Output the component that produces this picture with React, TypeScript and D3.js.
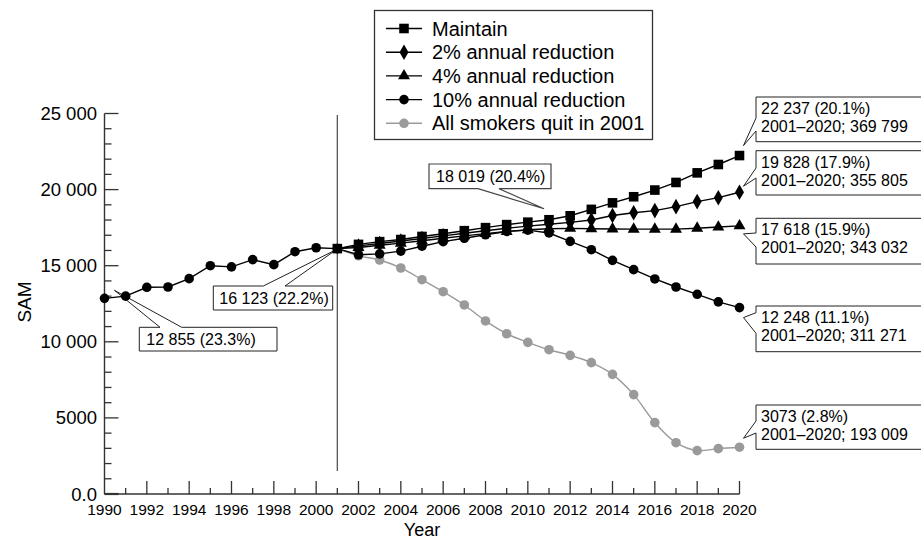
import React from "react";
import * as d3 from "d3";

const historyYears = [1990, 1991, 1992, 1993, 1994, 1995, 1996, 1997, 1998, 1999, 2000, 2001];
const historyValues = [12855, 13000, 13580, 13600, 14150, 15000, 14920, 15400, 15070, 15920, 16180, 16123];

const projYears = [2001, 2002, 2003, 2004, 2005, 2006, 2007, 2008, 2009, 2010, 2011, 2012, 2013, 2014, 2015, 2016, 2017, 2018, 2019, 2020];
const maintain = [16123, 16400, 16580, 16720, 16920, 17100, 17300, 17500, 17700, 17860, 18019, 18280, 18700, 19130, 19530, 19970, 20470, 21100, 21650, 22237];
const reduction2 = [16123, 16300, 16460, 16620, 16790, 16960, 17130, 17300, 17460, 17600, 17720, 17850, 18000, 18300, 18480, 18620, 18880, 19210, 19470, 19828];
const reduction4 = [16123, 16200, 16340, 16480, 16640, 16800, 16960, 17110, 17250, 17360, 17430, 17450, 17430, 17410, 17400, 17400, 17400, 17460, 17540, 17618];
const reduction10 = [16123, 15720, 15780, 15960, 16280, 16580, 16800, 17030, 17250, 17340, 17150, 16600, 16050, 15350, 14740, 14130, 13600, 13120, 12620, 12248];
const allQuit = [16123, 15650, 15374, 14850, 14080, 13290, 12420, 11370, 10530, 9965, 9480, 9110, 8630, 7860, 6530, 4690, 3370, 2850, 2980, 3073];

const legendLabels = ["Maintain", "2% annual reduction", "4% annual reduction", "10% annual reduction", "All smokers quit in 2001"];

const yTickValues = [0, 5000, 10000, 15000, 20000, 25000];
const yTickLabels = ["0.0", "5000", "10 000", "15 000", "20 000", "25 000"];
const xMajorYears = [1990, 1992, 1994, 1996, 1998, 2000, 2002, 2004, 2006, 2008, 2010, 2012, 2014, 2016, 2018, 2020];
const xMinorYears = [1991, 1993, 1995, 1997, 1999, 2001, 2003, 2005, 2007, 2009, 2011, 2013, 2015, 2017, 2019];

const rightNotes = [
  { year: 2020, value: 22237, l1: "22 237 (20.1%)", l2: "2001–2020; 369 799" },
  { year: 2020, value: 19828, l1: "19 828 (17.9%)", l2: "2001–2020; 355 805" },
  { year: 2020, value: 17618, l1: "17 618 (15.9%)", l2: "2001–2020; 343 032" },
  { year: 2020, value: 12248, l1: "12 248 (11.1%)", l2: "2001–2020;  311 271" },
  { year: 2020, value: 3073, l1: "3073 (2.8%)", l2: "2001–2020;  193 009" },
];

const FONT = "'Liberation Sans', Arial, sans-serif";

export default function App() {
  const x = d3.scaleLinear().domain([1990, 2020]).range([104.5, 739.5]);
  const y = d3.scaleLinear().domain([0, 25000]).range([494, 113.5]);

  const line = d3.line<[number, number]>().x((d) => x(d[0])).y((d) => y(d[1]));
  const curved = d3.line<[number, number]>().x((d) => x(d[0])).y((d) => y(d[1])).curve(d3.curveCatmullRom.alpha(0.5));

  const sq = d3.symbol().type(d3.symbolSquare).size(92)()!;
  const dia = d3.symbol().type(d3.symbolDiamond).size(70)()!;
  const tri = d3.symbol().type(d3.symbolTriangle).size(62)()!;

  const series = [
    { vals: maintain, sym: sq, color: "#000", circle: false },
    { vals: reduction2, sym: dia, color: "#000", circle: false },
    { vals: reduction4, sym: tri, color: "#000", circle: false },
    { vals: reduction10, sym: "", color: "#000", circle: true },
    { vals: allQuit, sym: "", color: "#9a9a9a", circle: true },
  ];

  const marker = (s: any, cx: number, cy: number, key: any) =>
    s.circle ? (
      <circle key={key} cx={cx} cy={cy} r={4.8} fill={s.color} />
    ) : (
      <path key={key} d={s.sym} transform={`translate(${cx},${cy})`} fill={s.color} />
    );

  const rBoxes = [
    { y0: 97, y1: 141.7, b1: 118, b2: 131, dy: -10 },
    { y0: 150.7, y1: 195, b1: 168, b2: 178, dy: -6 },
    { y0: 218.3, y1: 264, b1: 233, b2: 247, dy: 8 },
    { y0: 306, y1: 351.7, b1: 312.7, b2: 333.3, dy: 10 },
    { y0: 405, y1: 449.3, b1: 421, b2: 433, dy: -9 },
  ];
  const bx0 = 756,
    bx1 = 930;

  const xAxisY = y(0);

  return (
    <div style={{ position: "absolute", left: 0, top: 0 }}>
      <svg width={921} height={541} style={{ display: "block", fontFamily: FONT }}>
        <rect width={921} height={541} fill="#fff" />

        <line x1={x(2001)} x2={x(2001)} y1={115} y2={471} stroke="#555" strokeWidth={1.3} />

        <rect x={374.5} y={10.5} width={278} height={129} fill="#fff" stroke="#333" strokeWidth={1.3} />
        {legendLabels.map((lab, i) => {
          const ry = 28.5 + i * 23.7;
          const s = series[i];
          return (
            <g key={lab}>
              <line x1={386} x2={422} y1={ry} y2={ry} stroke={s.color} strokeWidth={1.4} />
              {marker(s, 404, ry, "m")}
              <text x={432} y={ry + 7} fontSize={20} fill="#000">
                {lab}
              </text>
            </g>
          );
        })}

        <line x1={x(1990)} x2={x(1990)} y1={y(25000)} y2={xAxisY} stroke="#333" strokeWidth={1.4} />
        <line x1={x(1990)} x2={x(2020)} y1={xAxisY} y2={xAxisY} stroke="#333" strokeWidth={1.4} />
        {y.ticks(25).map((t) => {
          const major = t % 5000 === 0;
          return (
            <line key={"yt" + t} x1={x(1990)} x2={x(1990) + (major ? 14 : 7)} y1={y(t)} y2={y(t)} stroke="#333" strokeWidth={major && t === 0 ? 2.2 : 1.3} />
          );
        })}
        {yTickValues.map((t, i) => (
          <text key={"yl" + t} x={97} y={y(t) + 6.5} fontSize={18.5} textAnchor="end" fill="#000">
            {yTickLabels[i]}
          </text>
        ))}
        {xMajorYears.map((yr) => (
          <g key={"xm" + yr}>
            {yr !== 1990 && <line x1={x(yr)} x2={x(yr)} y1={xAxisY} y2={xAxisY - 13} stroke="#333" strokeWidth={1.3} />}
            <text x={x(yr)} y={515} fontSize={15.5} textAnchor="middle" fill="#000">
              {yr}
            </text>
          </g>
        ))}
        {xMinorYears.map((yr) => (
          <line key={"xn" + yr} x1={x(yr)} x2={x(yr)} y1={xAxisY} y2={xAxisY - 6} stroke="#333" strokeWidth={1.3} />
        ))}
        <text transform="translate(24,302) rotate(-90)" fontSize={19} textAnchor="middle" dominantBaseline="central" fill="#000">
          SAM
        </text>
        <text x={422} y={536} fontSize={18} textAnchor="middle" fill="#000">
          Year
        </text>

        {(() => {
          const tx = x(1990) + 10,
            ty = y(historyValues[0]) - 8;
          const X0 = 139.3, Y0 = 327.3, X1 = 277, Y1 = 351;
          return (
            <g>
              <path d={`M${X0},${Y0}L160,${Y0}L${tx},${ty}L181.7,${Y0}L${X1},${Y0}L${X1},${Y1}L${X0},${Y1}Z`} fill="#fff" stroke="#222" strokeWidth={1} />
              <text x={X0 + 7} y={Y1 - 6.5} fontSize={16}>12 855 (23.3%)</text>
            </g>
          );
        })()}
        {(() => {
          const tx = x(2001) - 1,
            ty = y(historyValues[11]) + 1;
          const X0 = 213.3, Y0 = 286, X1 = 332.7, Y1 = 310;
          return (
            <g>
              <path d={`M${X0},${Y0}L263.3,${Y0}L${tx},${ty}L285,${Y0}L${X1},${Y0}L${X1},${Y1}L${X0},${Y1}Z`} fill="#fff" stroke="#222" strokeWidth={1} />
              <text x={X0 + 6} y={Y1 - 6.5} fontSize={16}>16 123 (22.2%)</text>
            </g>
          );
        })()}
        {(() => {
          const tx = x(2011) - 5,
            ty = y(maintain[10]) - 11;
          const X0 = 429, Y0 = 164, X1 = 551, Y1 = 188.7;
          return (
            <g>
              <path d={`M${X0},${Y0}L${X1},${Y0}L${X1},${Y1}L499,${Y1}L${tx},${ty}L478,${Y1}L${X0},${Y1}Z`} fill="#fff" stroke="#444" strokeWidth={1.2} />
              <text x={X0 + 7} y={Y1 - 6.5} fontSize={16}>18 019 (20.4%)</text>
            </g>
          );
        })()}

        {rightNotes.map((n, i) => {
          const b = rBoxes[i];
          const tx = x(n.year) + 4,
            ty = y(n.value) + b.dy;
          return (
            <g key={"rn" + i}>
              <path d={`M${bx0},${b.y0}L${bx1},${b.y0}L${bx1},${b.y1}L${bx0},${b.y1}L${bx0},${b.b2}L${tx},${ty}L${bx0},${b.b1}Z`} fill="#fff" stroke="#222" strokeWidth={1} />
              <text x={bx0 + 5} y={b.y0 + 17} fontSize={16}>{n.l1}</text>
              <text x={bx0 + 5} y={b.y0 + 35} fontSize={16}>{n.l2}</text>
            </g>
          );
        })}

        <path d={line(historyYears.map((yr, i) => [yr, historyValues[i]] as [number, number]))!} fill="none" stroke="#000" strokeWidth={1.4} />
        {historyYears.map((yr, i) => (
          <circle key={"h" + yr} cx={x(yr)} cy={y(historyValues[i])} r={4.8} fill="#000" />
        ))}
        {series
          .slice()
          .reverse()
          .map((s, si) => {
            const pts = projYears.map((yr, i) => [yr, s.vals[i]] as [number, number]);
            const gen = s.color === "#000" ? line : curved;
            return (
              <g key={"s" + si}>
                <path d={gen(pts)!} fill="none" stroke={s.color} strokeWidth={1.4} />
                {pts.slice(1).map((p, i) => marker(s, x(p[0]), y(p[1]), i))}
              </g>
            );
          })}
        <path d={sq} transform={`translate(${x(2001)},${y(16123)})`} fill="#000" />
      </svg>
    </div>
  );
}
